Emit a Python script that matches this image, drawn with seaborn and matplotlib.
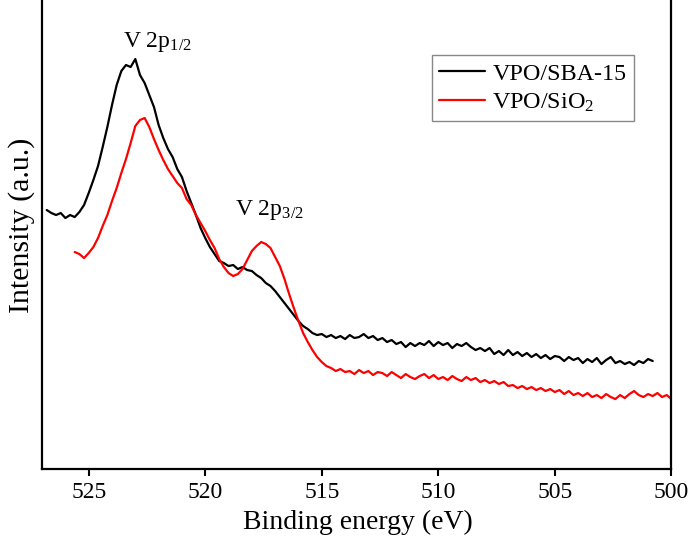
import numpy as np
import pandas as pd
import matplotlib
matplotlib.use("Agg")
import matplotlib.pyplot as plt
import seaborn as sns

# V 2p XPS spectra, binding energy in eV (uniform 0.2 eV steps), intensity in arbitrary units
sba_start, sba_step = 526.8, 0.2
sba15_intensity = [
    259, 256, 254, 256, 251, 254, 252, 257, 264, 276,
    289, 303, 322, 342, 364, 384, 398, 404, 402, 410,
    394, 386, 374, 362, 344, 331, 320, 312, 300, 292,
    278, 266, 254, 241, 231, 222, 215, 208, 206, 203,
    204, 200, 202, 199, 198, 194, 191, 186, 183, 178,
    172, 166, 160, 154, 148, 143, 140, 136, 134, 135,
    132, 134, 131, 133, 130, 134, 131, 132, 135, 131,
    133, 129, 131, 127, 129, 125, 127, 122, 126, 123,
    126, 124, 128, 123, 127, 124, 126, 121, 125, 123,
    126, 122, 119, 121, 118, 121, 115, 118, 114, 119,
    114, 117, 113, 116, 112, 115, 111, 114, 110, 113,
    112, 108, 112, 109, 111, 106, 110, 107, 111, 105,
    109, 112, 106, 108, 105, 107, 104, 108, 106, 110,
    108,
]

sio2_start, sio2_step = 525.6, 0.2
sio2_intensity = [
    217, 215, 211, 216, 222, 231, 243, 254, 268, 281,
    296, 310, 326, 343, 349, 351, 342, 330, 319, 309,
    300, 293, 286, 281, 270, 264, 254, 246, 238, 229,
    221, 210, 202, 196, 193, 195, 200, 209, 218, 223,
    227, 225, 221, 212, 203, 190, 175, 161, 148, 136,
    127, 119, 112, 107, 103, 101, 98, 100, 97, 98,
    95, 99, 96, 98, 94, 97, 96, 93, 97, 94,
    91, 95, 92, 90, 93, 95, 91, 94, 90, 92,
    89, 93, 90, 88, 92, 89, 91, 87, 89, 86,
    88, 85, 87, 83, 84, 81, 83, 80, 82, 79,
    81, 78, 80, 77, 79, 75, 78, 74, 76, 73,
    76, 72, 74, 71, 75, 72, 70, 74, 71, 75,
    78, 74, 72, 75, 73, 76, 72, 74, 70,
]

series_names = ["VPO/SBA-15", "VPO/SiO$_2$"]
series_colors = ["#000000", "#ff0000"]

sba_energy = sba_start - sba_step * np.arange(len(sba15_intensity))
sio2_energy = sio2_start - sio2_step * np.arange(len(sio2_intensity))

df = pd.concat([
    pd.DataFrame({"energy": sba_energy, "intensity": sba15_intensity, "sample": series_names[0]}),
    pd.DataFrame({"energy": sio2_energy, "intensity": sio2_intensity, "sample": series_names[1]}),
], ignore_index=True)

sns.set_style("ticks")
plt.rcParams["font.family"] = ["Liberation Serif", "DejaVu Serif"]
plt.rcParams["mathtext.fontset"] = "custom"
plt.rcParams["mathtext.rm"] = "Liberation Serif"
plt.rcParams["mathtext.it"] = "Liberation Serif:italic"
plt.rcParams["text.color"] = "black"
plt.rcParams["axes.labelcolor"] = "black"
plt.rcParams["xtick.color"] = "black"

fig = plt.figure(figsize=(6.9, 5.41), dpi=100)
ax = fig.add_axes([0.061, 0.133, 0.912, 0.867])

sns.lineplot(data=df, x="energy", y="intensity", hue="sample", sort=False,
             palette=dict(zip(series_names, series_colors)), linewidth=1.6,
             estimator=None, ax=ax)

ax.set_xlim(527, 500)
ax.set_ylim(0, 469)
ax.set_xticks([525, 520, 515, 510, 505, 500])
ax.set_yticks([])
ax.tick_params(axis="x", direction="out", length=5, width=1.5, labelsize=17, pad=4,
               colors="black", labelcolor="black")
for side in ["left", "right", "bottom"]:
    ax.spines[side].set_linewidth(1.6)
    ax.spines[side].set_color("black")
ax.spines["top"].set_visible(False)

ax.set_xlabel("Binding energy (eV)", fontsize=20, color="black")
ax.xaxis.set_label_coords(0.502, -0.088)
ax.set_ylabel("Intensity (a.u.)", fontsize=21.5, color="black")
ax.yaxis.set_label_coords(-0.032, 0.52)
ax.yaxis.label.set_va("center")

ax.text(522.05, 427, "V 2p$_{1/2}$", fontsize=17, ha="center", va="center", color="black")
ax.text(517.25, 259, "V 2p$_{3/2}$", fontsize=17, ha="center", va="center", color="black")

leg = ax.legend(loc="upper right", bbox_to_anchor=(0.94, 0.882), borderaxespad=0,
                fontsize=17.4, frameon=True, fancybox=False, edgecolor="#888888",
                framealpha=1, handlelength=1.9, borderpad=0.3, labelspacing=0.3,
                handletextpad=0.3)
leg.get_frame().set_linewidth(1.0)
for t in leg.get_texts():
    t.set_color("black")

fig.savefig("out.png", dpi=100)
